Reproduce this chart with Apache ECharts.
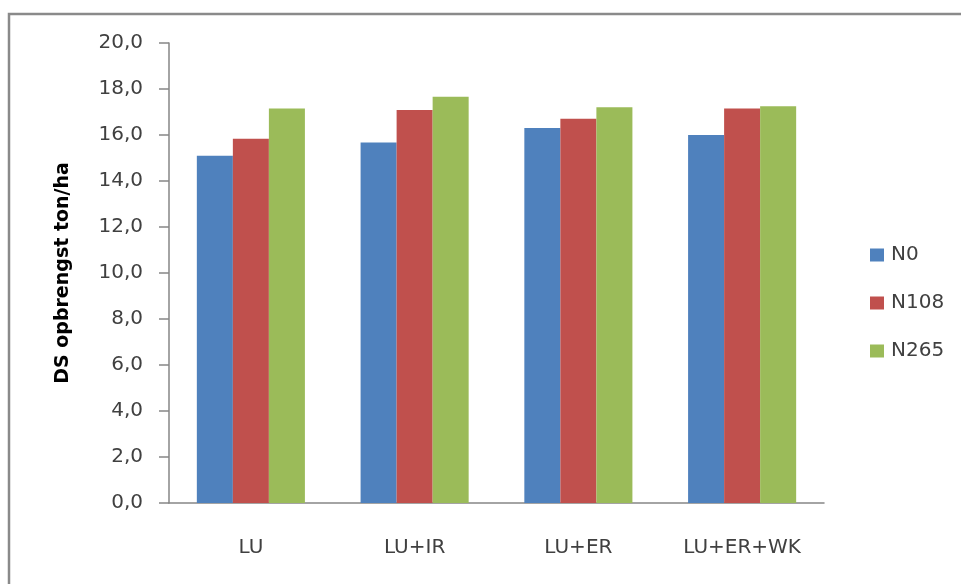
<!DOCTYPE html>
<html>
<head>
<meta charset="utf-8">
<script src="https://cdn.jsdelivr.net/npm/echarts@6/dist/echarts.min.js"></script>
<style>
  html, body { margin: 0; padding: 0; background: #ffffff; overflow: hidden; }
  #chart { width: 961px; height: 584px; }
</style>
</head>
<body>
<div id="chart"></div>
<script>
// Dry-matter yield per treatment and nitrogen level
const categories = ['LU', 'LU+IR', 'LU+ER', 'LU+ER+WK'];
const seriesNames = ['N0', 'N108', 'N265'];
const n0 = [15.1, 15.67, 16.3, 16.0];
const n108 = [15.84, 17.09, 16.71, 17.15];
const n265 = [17.15, 17.66, 17.21, 17.25];
const yTicks = { min: 0, max: 20, interval: 2 };
const yTitle = 'DS opbrengst ton/ha';

const colors = ['#4F81BD', '#C0504D', '#9BBB59'];
const seriesValues = [n0, n108, n265];
const textColor = '#404040';
const axisColor = '#868686';
const font = 'DejaVu Sans';

const chart = echarts.init(document.getElementById('chart'), null, { renderer: 'canvas' });

chart.setOption({
  backgroundColor: '#ffffff',
  animation: false,
  graphic: [{
    // chart-area frame: only its left and top edges fall inside the canvas
    type: 'polyline',
    shape: { points: [[9, 700], [9, 14], [1100, 14]] },
    style: { fill: 'none', stroke: '#8a8a8a', lineWidth: 2.5 },
    silent: true
  }],
  legend: {
    orient: 'vertical',
    left: 865,
    top: 240,
    itemWidth: 14,
    itemHeight: 13,
    itemGap: 28,
    icon: 'rect',
    textStyle: { fontFamily: font, fontSize: 20, color: textColor, lineHeight: 20, padding: [0, 0, 0, 2] },
    data: seriesNames
  },
  grid: { left: 169, right: 137, top: 43, bottom: 81, containLabel: false },
  xAxis: {
    type: 'category',
    data: categories,
    axisLine: { show: true, lineStyle: { color: axisColor, width: 1.5 } },
    axisTick: { show: false },
    axisLabel: { fontFamily: font, fontSize: 20, color: textColor, margin: 35 }
  },
  yAxis: {
    type: 'value',
    min: yTicks.min,
    max: yTicks.max,
    interval: yTicks.interval,
    name: yTitle,
    nameLocation: 'middle',
    nameGap: 96,
    nameTextStyle: { fontFamily: font, fontSize: 19, fontWeight: 'bold', color: '#000000' },
    axisLine: { show: true, lineStyle: { color: axisColor, width: 1.5 } },
    axisTick: { show: true, length: 10, lineStyle: { color: axisColor, width: 1.5 } },
    splitLine: { show: false },
    axisLabel: {
      fontFamily: font, fontSize: 20, color: textColor, margin: 26,
      formatter: v => v.toFixed(1).replace('.', ',')
    }
  },
  series: seriesNames.map((name, i) => ({
    name: name,
    type: 'bar',
    data: seriesValues[i],
    barGap: '0%',
    barCategoryGap: '34%',
    itemStyle: { color: colors[i] }
  }))
});
</script>
</body>
</html>
